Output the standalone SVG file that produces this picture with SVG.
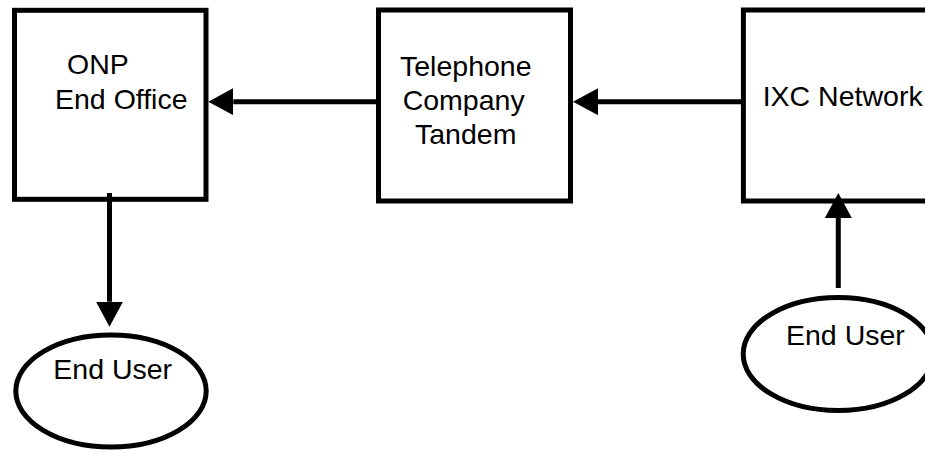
<svg xmlns="http://www.w3.org/2000/svg" width="925" height="452" viewBox="0 0 925 452">
  <style>
    .box { fill: #ffffff; stroke: #000000; stroke-width: 5; }
    .user { fill: #ffffff; stroke: #000000; stroke-width: 5; }
    .link { stroke: #000000; stroke-width: 5; fill: none; }
    .label { font-family: "Liberation Sans", Arial, sans-serif; font-size: 28.5px; fill: #000000; }
  </style>
  <defs>
    <marker id="head" viewBox="0 0 25 27" refX="0" refY="13.5" markerWidth="25" markerHeight="27" markerUnits="userSpaceOnUse" orient="auto">
      <path d="M0,0 L25,13.5 L0,27 Z" fill="#000000"/>
    </marker>
  </defs>

  <g id="onp-end-office">
    <rect class="box" x="14.5" y="10.3" width="191.5" height="189"/>
    <text class="label" x="67" y="74">ONP</text>
    <text class="label" x="55" y="108.5">End Office</text>
  </g>

  <g id="telephone-company-tandem">
    <rect class="box" x="378.5" y="10" width="192" height="191"/>
    <text class="label" x="400" y="75.5">Telephone</text>
    <text class="label" x="402.7" y="109.5">Company</text>
    <text class="label" x="415" y="143.5">Tandem</text>
  </g>

  <g id="ixc-network">
    <rect class="box" x="743.4" y="10" width="192" height="191"/>
    <text class="label" x="762.7" y="106">IXC Network</text>
  </g>

  <g id="end-user-left">
    <ellipse class="user" cx="111" cy="391" rx="95.2" ry="56"/>
    <text class="label" x="53.3" y="379">End User</text>
  </g>

  <g id="end-user-right">
    <ellipse class="user" cx="838.2" cy="354" rx="95" ry="56.5"/>
    <text class="label" x="786" y="345">End User</text>
  </g>

  <g id="connectors">
    <line class="link" x1="378.5" y1="101.7" x2="233.3" y2="101.7" marker-end="url(#head)"/>
    <line class="link" x1="743.4" y1="101.7" x2="598" y2="101.7" marker-end="url(#head)"/>
    <line class="link" x1="109.5" y1="193" x2="109.5" y2="301.7" marker-end="url(#head)"/>
    <line class="link" x1="838.3" y1="288" x2="838.3" y2="218" marker-end="url(#head)"/>
  </g>
</svg>
